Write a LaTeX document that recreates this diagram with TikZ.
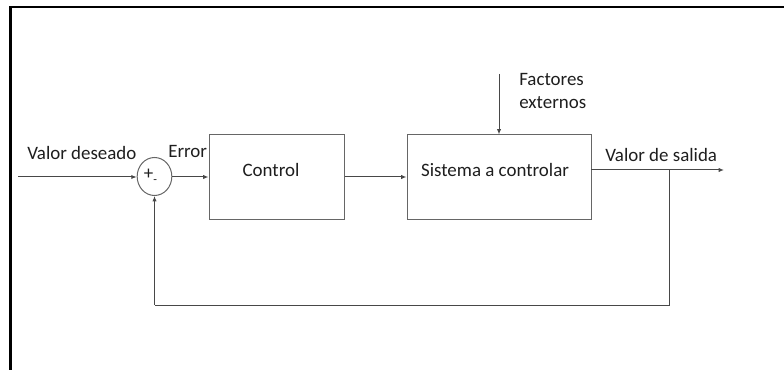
\documentclass[tikz,border=0pt]{standalone}
\usepackage{fontspec}
\setmainfont{Carlito}
\usetikzlibrary{arrows.meta,shapes.geometric,calc}
\definecolor{lnc}{HTML}{484848}
\definecolor{boxc}{HTML}{666666}
\definecolor{txc}{HTML}{1E1E1E}
\begin{document}
\begin{tikzpicture}[x=0.75pt,y=-0.75pt,
  every node/.style={text=txc,font=\fontsize{14.2}{17.3}\selectfont,inner sep=0pt},
  blockbox/.style={draw=boxc,line width=0.75pt,minimum height=63pt},
  sumnode/.style={draw=boxc,line width=0.75pt,ellipse,minimum width=26pt,minimum height=28.5pt},
  sig/.style={draw=lnc,line width=0.75pt,-{Latex[length=4pt,width=3.2pt]}},
  wire/.style={draw=lnc,line width=0.75pt},
  frameline/.style={draw=black,line width=1.6pt}]
\useasboundingbox (0,0) rectangle (784,370);

% outer frame (top and left edges)
\coordinate (fa) at (784,7);
\coordinate (fb) at (10.5,7);
\coordinate (fc) at (10.5,370);
\draw[frameline] (fa) -- (fb) -- (fc);

% blocks
\node[sumnode] (sum) at (154.5,176.5) {};
\node at (150.5,176) {+\raisebox{-0.45ex}{\fontsize{9}{9}\selectfont -}};
\node[blockbox,minimum width=101.25pt] (ctrl) at (276.5,177) {};
\node (ctrltxt) at (271,170) {Control};
\node[blockbox,minimum width=138pt] (sis) at (499,177) {};
\node (sistxt) at (495,170) {Sistema a controlar};

% labels
\node[anchor=west] (vd) at (27,153) {Valor deseado};
\node[anchor=west] (err) at (168,151) {Error};
\node[anchor=west] (vs) at (605,155) {Valor de salida};
\node[anchor=north west,align=left] (fe) at (519,73) {Factores\\externos};

% signal connectors
\coordinate (in) at (18,177);
\draw[sig] (in) -- (sum.west |- in);
\draw[sig] (sum.east |- ctrl.west) -- (ctrl.west);
\draw[sig] (ctrl.east) -- (sis.west);
\coordinate (dist) at (499,74);
\draw[sig] (dist) -- (sis.north);
\coordinate (so) at (591,170);
\coordinate (out) at (724,170);
\draw[sig] (so) -- (out);

% feedback path
\coordinate (tap) at (669,170);
\coordinate (fbr) at (669,305);
\coordinate (fbl) at (154.5,305);
\draw[wire] (tap) -- (fbr) -- (fbl);
\draw[sig] (fbl) -- (sum.south);
\end{tikzpicture}
\end{document}
